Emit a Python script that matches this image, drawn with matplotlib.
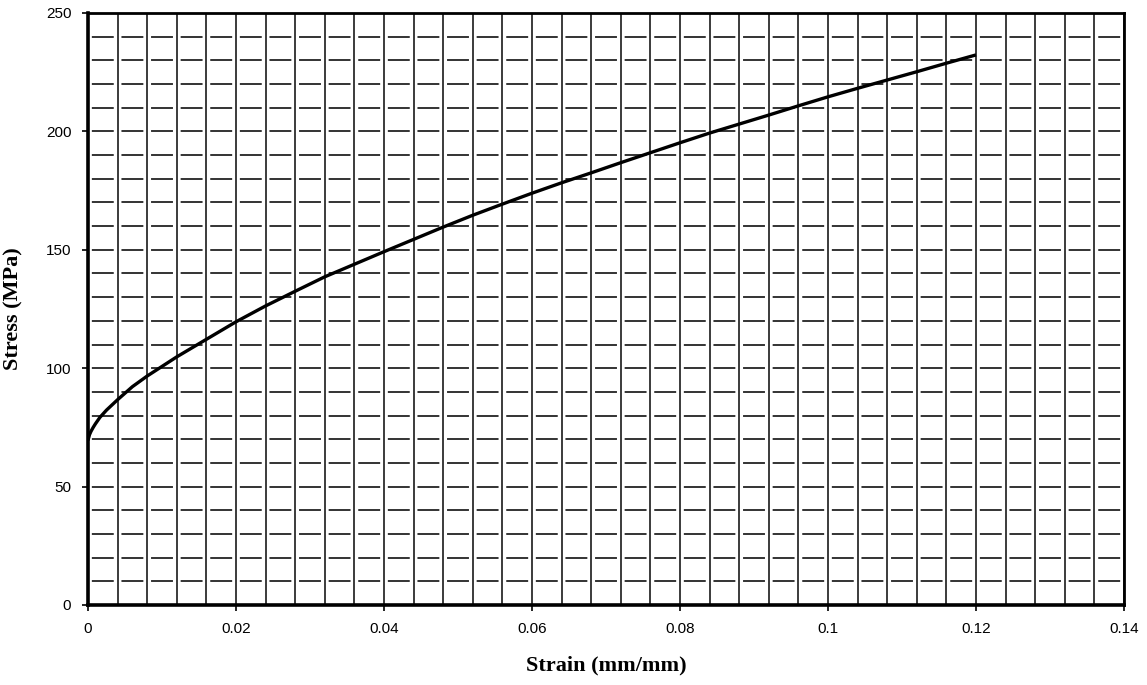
import numpy as np
import matplotlib.pyplot as plt
from matplotlib.ticker import MultipleLocator

# values
strain = [0.0, 0.0002, 0.0004, 0.0007, 0.001, 0.0016, 0.0025, 0.004, 0.006,
          0.008, 0.012, 0.016, 0.020, 0.024, 0.028,
          0.032, 0.036, 0.040, 0.044, 0.048, 0.052, 0.056, 0.060, 0.064, 0.068,
          0.072, 0.076, 0.080, 0.084, 0.088, 0.092, 0.096, 0.100, 0.104, 0.108,
          0.112, 0.116, 0.120]
stress = [69.5, 71.9, 73.3, 75.0, 76.5, 79.2, 82.3, 86.7, 92.2,
          96.7, 104.8, 112.2, 119.6, 126.3, 132.5,
          138.6, 143.9, 149.2, 154.4, 159.6, 164.6, 169.3, 173.9, 178.3, 182.5,
          186.8, 191.0, 195.2, 199.3, 203.1, 206.9, 210.8, 214.6, 218.2, 221.7,
          225.2, 228.8, 232.3]

xticks = [0, 0.02, 0.04, 0.06, 0.08, 0.1, 0.12, 0.14]
xticklabels = ['0', '0.02', '0.04', '0.06', '0.08', '0.1', '0.12', '0.14']
yticks = [0, 50, 100, 150, 200, 250]

plt.rcParams['lines.scale_dashes'] = False

W, H = 11.47, 6.85
fig = plt.figure(figsize=(W, H), dpi=100)
left, right, bottom, top = 88 / 1147, 1124 / 1147, 80 / 685, 672 / 685
ax = fig.add_axes([left, bottom, right - left, top - bottom])

ax.set_xlim(0, 0.14)
ax.set_ylim(0, 250)

# grid: solid verticals every 0.004, dashed horizontals every 10
ax.xaxis.set_minor_locator(MultipleLocator(0.004))
ax.yaxis.set_minor_locator(MultipleLocator(10))
ax.grid(True, which='both', axis='x', color='#1a1a1a', linewidth=1.2)

cell_pt = (right - left) * W * 72 / 35
dash_on = cell_pt * 0.74
dash_off = cell_pt - dash_on
ax.grid(True, which='both', axis='y', color='#111111', linewidth=1.2,
        linestyle=(dash_on + dash_off / 2, (dash_on, dash_off)))
ax.set_axisbelow(True)

ax.plot(strain, stress, color='black', linewidth=2.4, solid_capstyle='butt')

ax.set_xticks(xticks)
ax.set_xticklabels(xticklabels)
ax.set_yticks(yticks)
ax.tick_params(which='major', direction='out', length=4, width=1.2,
               labelsize=11, pad=8)
ax.tick_params(which='minor', length=0)
for lab in ax.get_xticklabels() + ax.get_yticklabels():
    lab.set_fontfamily('Liberation Sans')

for side in ['left', 'bottom']:
    ax.spines[side].set_linewidth(2.6)
for side in ['top', 'right']:
    ax.spines[side].set_linewidth(2.0)

ax.set_xlabel('Strain (mm/mm)', fontsize=16, fontweight='bold',
              fontfamily='Liberation Serif', labelpad=14)
ax.set_ylabel('Stress (MPa)', fontsize=16, fontweight='bold',
              fontfamily='Liberation Serif', labelpad=16)

fig.savefig('out.png', dpi=100)
